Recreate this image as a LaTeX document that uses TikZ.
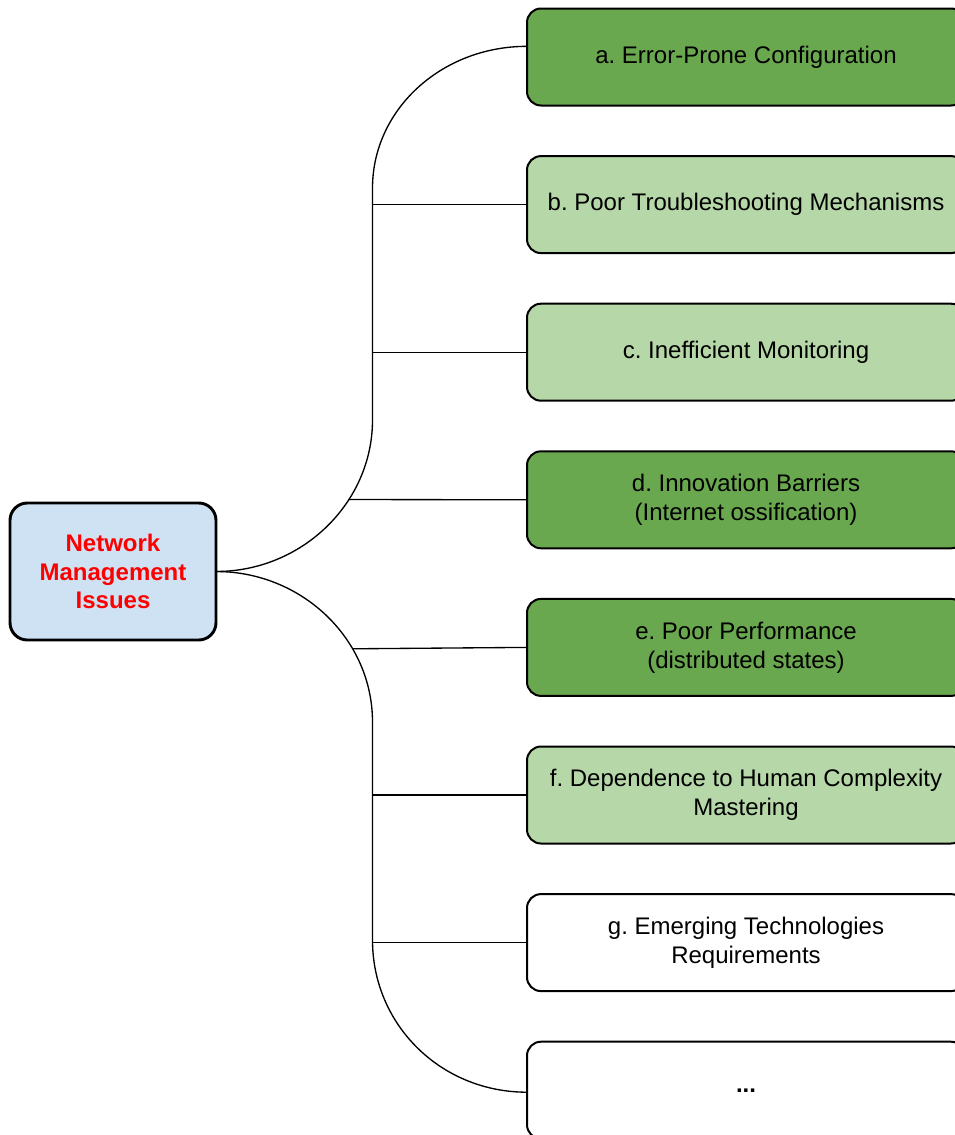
\documentclass[tikz,border=0pt]{standalone}
\usepackage{fontspec}
\setmainfont{Liberation Sans}
\usepackage{xcolor}
\usetikzlibrary{positioning}
\frenchspacing
\definecolor{rootblue}{HTML}{CFE2F3}
\definecolor{darkgreen}{HTML}{6AA84F}
\definecolor{lightgreen}{HTML}{B6D7A8}
\tikzstyle{root} = [rectangle, rounded corners=13pt, minimum width=154.5pt, minimum height=102.75pt, outer sep=0pt, align=center, draw=black, line width=2.2pt, fill=rootblue, text=red, font=\fontsize{18}{21.5}\selectfont\bfseries]
\tikzstyle{issue} = [rectangle, rounded corners=10.5pt, minimum width=328.5pt, minimum height=72.75pt, outer sep=0pt, align=center, draw=black, line width=1.5pt, font=\fontsize{18}{21.75}\selectfont]
\tikzstyle{major} = [issue, fill=darkgreen]
\tikzstyle{minor} = [issue, fill=lightgreen]
\tikzstyle{other} = [issue, fill=white]
\tikzstyle{branch} = [line width=1pt]

\begin{document}
\begin{tikzpicture}[x=0.75pt, y=-0.75pt, node distance=37.95pt]

\useasboundingbox (0,0) rectangle (955,1135);
\clip (0,0) rectangle (955,1135);

% Root
\node [root] (root) at (113,571.5) {Network\\Management\\Issues};

% Issues
\node [major] (issue1) at (746,57) {a. Error-Prone Configuration};
\node [minor, below=of issue1] (issue2) {b. Poor Troubleshooting Mechanisms};
\node [minor, below=of issue2] (issue3) {c. Inefficient Monitoring};
\node [major, below=of issue3] (issue4) {d. Innovation Barriers\\(Internet ossification)};
\node [major, below=of issue4] (issue5) {e. Poor Performance\\(distributed states)};
\node [minor, below=of issue5] (issue6) {f. Dependence to Human Complexity\\Mastering};
\node [other, below=of issue6] (issue7) {g. Emerging Technologies\\Requirements};
\node [other, below=of issue7] (issue8) {\textbf{...}};

% Spine
\coordinate (spine) at (372.5,571.5);

% Brace
\draw [branch] (root.east) .. controls +(86,0) and +(0,83) .. coordinate[pos=0.65] (dfoot) (372.5,420)
  -- (372.5,188) .. controls +(0,-78) and +(-86,0) .. ([yshift=8pt]issue1.west);
\draw [branch] (root.east) .. controls +(86,0) and +(0,-83) .. coordinate[pos=0.68] (efoot) (372.5,722)
  -- (372.5,940) .. controls +(0,85) and +(-86,0) .. ([yshift=-1.5pt]issue8.west);

% Branches
\draw [branch] (issue2.west) -- (issue2.west -| spine);
\draw [branch] (issue3.west) -- (issue3.west -| spine);
\draw [branch] (issue4.west) -- (dfoot);
\draw [branch] (issue5.west) -- (efoot);
\draw [branch] (issue6.west) -- (issue6.west -| spine);
\draw [branch] (issue7.west) -- (issue7.west -| spine);

\end{tikzpicture}
\end{document}
